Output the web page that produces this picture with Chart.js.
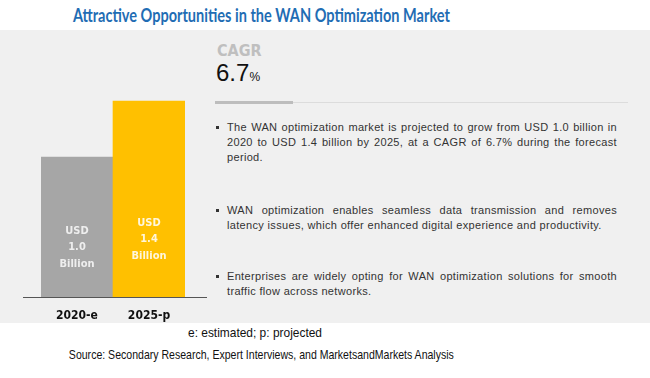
<!DOCTYPE html>
<html>
<head>
<meta charset="utf-8">
<script src="https://cdn.jsdelivr.net/npm/chart.js@4"></script>
<style>
  body { margin: 0; width: 650px; height: 378px; background: #fff; position: relative; overflow: hidden; font-family: "Liberation Sans", Arial, sans-serif; }
  .fit { position: absolute; white-space: nowrap; transform-origin: center top; }
  #title { top: 3px; color: #1f6db4; font: bold 19px Lato, sans-serif; }
  #panel { position: absolute; left: 0; top: 30px; width: 650px; height: 293px; background: #f0f0f0; }
  #wan-chart { position: absolute; left: 0; top: 30px; }
  #cagr { position: absolute; left: 217px; top: 41px; color: #bfbfbf; font: bold 16px "DejaVu Sans Condensed", sans-serif; }
  #rate { position: absolute; left: 216px; top: 59px; color: #111; font: 24px "Liberation Sans", sans-serif; }
  #rate span { font-size: 12px; }
  #line { position: absolute; left: 215px; top: 102px; width: 413px; height: 1px; background: #dcdcdc; }
  #line2 { position: absolute; left: 215px; top: 101px; width: 78px; height: 3px; background: #bdbdbd; }
  .bul { position: absolute; left: 227px; width: 390px; font-size: 11px; line-height: 15px; letter-spacing: 0.33px; color: #333; text-align: justify; }
  .bul:before { content: ""; position: absolute; left: -11px; top: 6px; width: 3px; height: 3px; background: #333; }
  .note { color: #111; font: 13px "Liberation Sans", sans-serif; }
</style>
</head>
<body>
<div id="title" class="fit" data-left="73" data-width="377">Attractive Opportunities in the WAN Optimization Market</div>
<div id="panel"></div>
<canvas id="wan-chart" width="215" height="293"></canvas>
<div id="cagr">CAGR</div>
<div id="rate">6.7<span>%</span></div>
<div id="line"></div>
<div id="line2"></div>
<div class="bul" style="top:120px">The WAN optimization market is projected to grow from USD 1.0 billion in 2020 to USD 1.4 billion by 2025, at a CAGR of 6.7% during the forecast period.</div>
<div class="bul" style="top:203px">WAN optimization enables seamless data transmission and removes latency issues, which offer enhanced digital experience and productivity.</div>
<div class="bul" style="top:269px">Enterprises are widely opting for WAN optimization solutions for smooth traffic flow across networks.</div>
<div class="note fit" style="top:325px" data-left="188" data-width="134">e: estimated; p: projected</div>
<div class="note fit" style="top:347px" data-left="69" data-width="385">Source: Secondary Research, Expert Interviews, and MarketsandMarkets Analysis</div>

<script>
const years = ['2020-e', '2025-p'];
const marketSize = [1.0, 1.4]; // USD billion
const barColors = ['#a6a6a6', '#ffc000'];
const labelColors = ['#eeeeee', '#fff6dc'];

// squeeze the narrow texts to the width they have in the original
document.querySelectorAll('.fit').forEach(el => {
    const w = el.getBoundingClientRect().width;
    const left = +el.dataset.left, target = +el.dataset.width;
    el.style.left = (left + target / 2 - w / 2) + 'px';
    el.style.transform = 'scaleX(' + (target / w) + ')';
});

const condensed = '"DejaVu Sans Condensed", "Liberation Sans", sans-serif';

// white text inside the bars + the base line
const barText = {
    id: 'barText',
    afterDatasetsDraw(chart) {
        const ctx = chart.ctx;
        const base = chart.scales.y.getPixelForValue(0);
        ctx.save();
        ctx.strokeStyle = '#555';
        ctx.lineWidth = 1;
        ctx.beginPath();
        ctx.moveTo(chart.chartArea.left - 18, Math.round(base) + 0.5);
        ctx.lineTo(chart.chartArea.right + 22, Math.round(base) + 0.5);
        ctx.stroke();

        ctx.font = 'bold 11px ' + condensed;
        ctx.textAlign = 'center';
        ctx.textBaseline = 'middle';
        chart.getDatasetMeta(0).data.forEach((bar, i) => {
            const lines = ['USD', marketSize[i].toFixed(1), 'Billion'];
            const mid = base - 30 - 0.14 * (base - bar.y);
            ctx.fillStyle = labelColors[i];
            lines.forEach((t, j) => {
                ctx.fillText(t, bar.x, mid + (j - 1) * 16.5);
            });
        });
        ctx.restore();
    }
};

new Chart(document.getElementById('wan-chart'), {
    type: 'bar',
    data: {
        labels: years,
        datasets: [{
            data: marketSize,
            backgroundColor: barColors,
            barPercentage: 1,
            categoryPercentage: 1
        }]
    },
    options: {
        responsive: false,
        animation: false,
        layout: {
            padding: { left: 41, right: 30, top: 43, bottom: 0 }
        },
        plugins: {
            legend: { display: false },
            tooltip: { enabled: false }
        },
        scales: {
            x: {
                grid: { display: false, drawTicks: false },
                border: { display: false },
                afterFit(scale) { scale.height = 26; },
                ticks: {
                    color: '#111',
                    padding: 12,
                    font: { family: condensed, weight: 'bold', size: 12 }
                }
            },
            y: {
                display: false,
                min: 0,
                max: 1.6
            }
        }
    },
    plugins: [barText]
});
</script>
</body>
</html>
